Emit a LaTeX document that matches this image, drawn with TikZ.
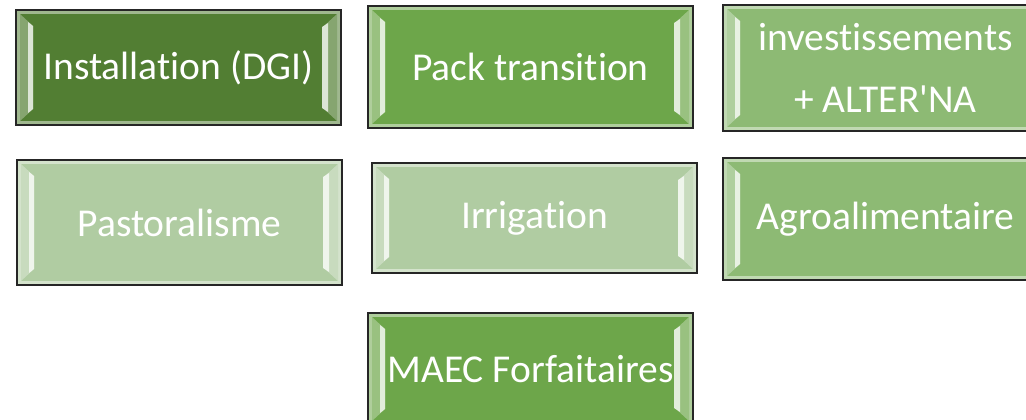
\documentclass[tikz,border=0pt]{standalone}
\usepackage{fontspec}
\setmainfont{Carlito}[Ligatures={TeXOff,NoCommon}]
\usetikzlibrary{calc}
\definecolor{gA}{HTML}{527E33}
\definecolor{gB}{HTML}{6DA64A}
\definecolor{gC}{HTML}{8DBA74}
\definecolor{gD}{HTML}{B0CCA2}
\tikzset{
  bevelbox/.style={draw=black!85, line width=2pt, fill=#1, minimum width=325pt,
    inner sep=0pt, text=white, font=\fontsize{39.5}{62}\selectfont, align=center,
    path picture={
      \coordinate (pnw) at (path picture bounding box.north west);
      \coordinate (pse) at (path picture bounding box.south east);
      \coordinate (psw) at (pnw |- pse);
      \coordinate (pne) at (pse |- pnw);
      \draw[line width=3pt, #1!55!white] ($(pnw)+(2.5,2.5)$) rectangle ($(pse)+(-2.5,-2.5)$);
      \fill[#1!70!white] ($(pnw)+(4,4)$) -- ($(pnw)+(17,16)$) -- ($(psw)+(17,-16)$) -- ($(psw)+(4,-4)$) -- cycle;
      \fill[white!80!#1] ($(pnw)+(12,12)$) -- ($(pnw)+(17,16)$) -- ($(psw)+(17,-16)$) -- ($(psw)+(12,-12)$) -- cycle;
      \fill[#1!70!white] ($(pne)+(-4,4)$) -- ($(pne)+(-17,16)$) -- ($(pse)+(-17,-16)$) -- ($(pse)+(-4,-4)$) -- cycle;
      \fill[white!80!#1] ($(pne)+(-13,13)$) -- ($(pne)+(-19,17)$) -- ($(pse)+(-19,-17)$) -- ($(pse)+(-13,-13)$) -- cycle;
    }},
}
\begin{document}
\begin{tikzpicture}[x=1pt,y=-1pt]
\useasboundingbox (0,0) rectangle (1026,420);
\clip (0,0) rectangle (1026,420);
\node[bevelbox=gA, minimum height=115pt] (inst) at (178.5,67.5) {Installation (DGI)};
\node[bevelbox=gB, minimum height=122pt] (pack) at (530.5,67) {Pack transition};
\node[bevelbox=gC, minimum height=126pt] (inv) at (885.5,68) {investissements\\+ ALTER'NA};
\node[bevelbox=gD, minimum height=125pt] (past) at (179.5,222.5) {Pastoralisme};
\node[bevelbox=gD, minimum height=110pt] (irr) at (534.5,218) {Irrigation};
\node[bevelbox=gC, minimum height=122pt] (agro) at (885.5,219) {Agroalimentaire};
\node[bevelbox=gB, minimum height=112pt] (maec) at (530.5,369) {MAEC Forfaitaires};
\end{tikzpicture}
\end{document}
